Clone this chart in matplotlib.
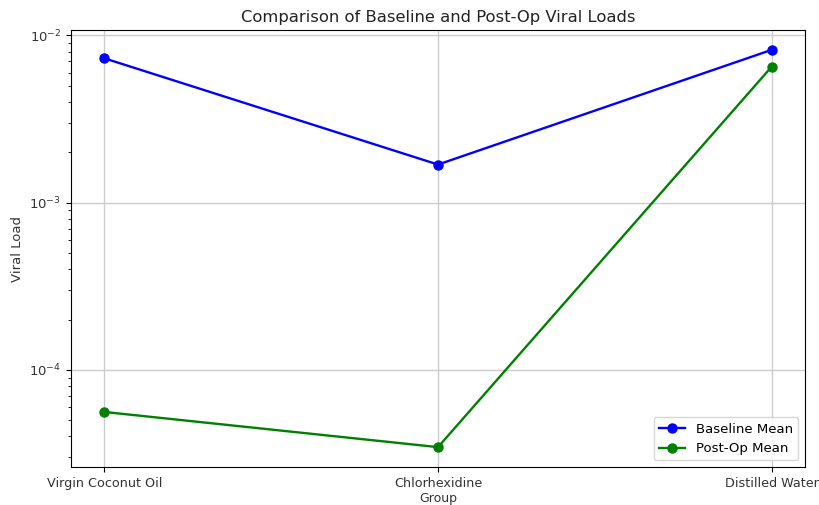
import matplotlib
matplotlib.use("Agg")
import matplotlib.pyplot as plt

groups = ["Virgin Coconut Oil", "Chlorhexidine", "Distilled Water"]
baseline_mean = [7.3e-3, 1.69e-3, 8.2e-3]
postop_mean = [5.6e-5, 3.45e-5, 6.5e-3]

fig = plt.figure(figsize=(8.19, 5.05), dpi=100)
ax = fig.add_axes([71/819, 1-467/505, (805-71)/819, (467-30)/505])

ax.plot(groups, baseline_mean, marker="o", color="blue", label="Baseline Mean", linewidth=1.7, markersize=6.5)
ax.plot(groups, postop_mean, marker="o", color="green", label="Post-Op Mean", linewidth=1.7, markersize=6.5)
ax.set_yscale("log")
ax.set_title("Comparison of Baseline and Post-Op Viral Loads", fontsize=11.8, color="#222222")
ax.set_xlabel("Group", fontsize=9, color="#333333", labelpad=1.5)
ax.set_ylabel("Viral Load", fontsize=9.5, color="#333333")
ax.tick_params(axis="y", labelsize=9.5, labelcolor="#333333")
ax.tick_params(axis="x", labelsize=9.2, labelcolor="#333333")
ax.grid(True, which="major", color="#cccccc", linewidth=1)
ax.legend(loc="lower right", fontsize=9.5)

fig.savefig("out.png", dpi=100)
